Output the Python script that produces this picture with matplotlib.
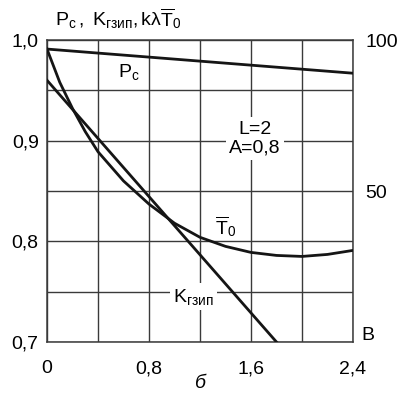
import numpy as np
import matplotlib
matplotlib.use('Agg')
import matplotlib.pyplot as plt

plt.rcParams['font.family'] = ['Liberation Sans', 'DejaVu Sans']
plt.rcParams['mathtext.fontset'] = 'custom'
plt.rcParams['mathtext.rm'] = 'Liberation Sans'
plt.rcParams['mathtext.it'] = 'Liberation Sans:italic'

# data
b_line = [0.0, 2.4]
pc_vals = [0.991, 0.967]

b_k = [0.0, 1.8]
k_vals = [0.960, 0.700]

b_t0 = [0.0, 0.1, 0.2, 0.3, 0.4, 0.6, 0.8, 1.0, 1.2, 1.4, 1.6, 1.8, 2.0, 2.2, 2.4]
t0_vals = [0.991, 0.958, 0.932, 0.909, 0.889, 0.860, 0.837, 0.818, 0.804,
           0.795, 0.789, 0.786, 0.785, 0.787, 0.791]

x_ticks = [0.0, 0.8, 1.6, 2.4]
x_labels = ['0', '0,8', '1,6', '2,4']
y_ticks = [0.7, 0.8, 0.9, 1.0]
y_labels = ['0,7', '0,8', '0,9', '1,0']
r_ticks = [50, 100]
r_labels = ['50', '100']

grid_col = '#3a3a3a'
line_col = '#151515'
fs = 14

fig = plt.figure(figsize=(4.05, 3.95), dpi=100)
ax = fig.add_axes([47 / 405, 53 / 395, 306 / 405, 302 / 395])

ax.set_xlim(0, 2.4)
ax.set_ylim(0.7, 1.0)
ax.set_xticks(x_ticks)
ax.set_xticklabels(x_labels)
ax.set_yticks(y_ticks)
ax.set_yticklabels(y_labels)
ax.set_xticks(np.arange(0, 2.41, 0.4), minor=True)
ax.set_yticks(np.arange(0.7, 1.001, 0.05), minor=True)
ax.grid(True, which='both', color=grid_col, lw=1.0)
ax.tick_params(which='both', length=0, labelsize=fs, colors='black')
ax.tick_params(axis='x', pad=13)
ax.tick_params(axis='y', pad=6)
for s in ax.spines.values():
    s.set_color(grid_col)
    s.set_linewidth(1.1)

ax.plot(b_line, pc_vals, color=line_col, lw=2.0, zorder=3)
ax.plot(b_k, k_vals, color=line_col, lw=2.0, zorder=3)
ax.plot(b_t0, t0_vals, color=line_col, lw=2.0, zorder=3)

ax2 = ax.twinx()
ax2.set_ylim(0, 100)
ax2.set_yticks(r_ticks)
ax2.set_yticklabels(r_labels)
ax2.tick_params(length=0, labelsize=fs, pad=9)
for s in ax2.spines.values():
    s.set_visible(False)

bg = dict(facecolor='white', edgecolor='none', pad=2.5)
ax.text(0.64, 0.968, r'$\mathregular{P_c}$', fontsize=fs, ha='center', va='center', zorder=4)
ax.text(1.63, 0.902, 'L=2\nA=0,8', fontsize=fs, ha='center', va='center',
        linespacing=1.15, bbox=bg, zorder=4)
ax.text(1.40, 0.815, r'$\mathregular{\overline{T}_0}$', fontsize=fs, ha='center', va='center', zorder=4)
ax.text(1.15, 0.745, r'$\mathregular{K_{гзип}}$', fontsize=fs, ha='center', va='center',
        bbox=bg, zorder=4)

fig.text(55 / 405, 1 - 19 / 395, r'$\mathregular{P_c\,,\ K_{гзип},k\lambda\overline{T}_0}$',
         fontsize=fs, ha='left', va='center')
fig.text(361 / 405, 1 - 335 / 395, 'B', fontsize=fs, ha='left', va='center')
fig.text(200 / 405, 1 - 383 / 395, 'б', fontsize=fs, style='italic', ha='center', va='center')

fig.savefig('out.png', dpi=100)
